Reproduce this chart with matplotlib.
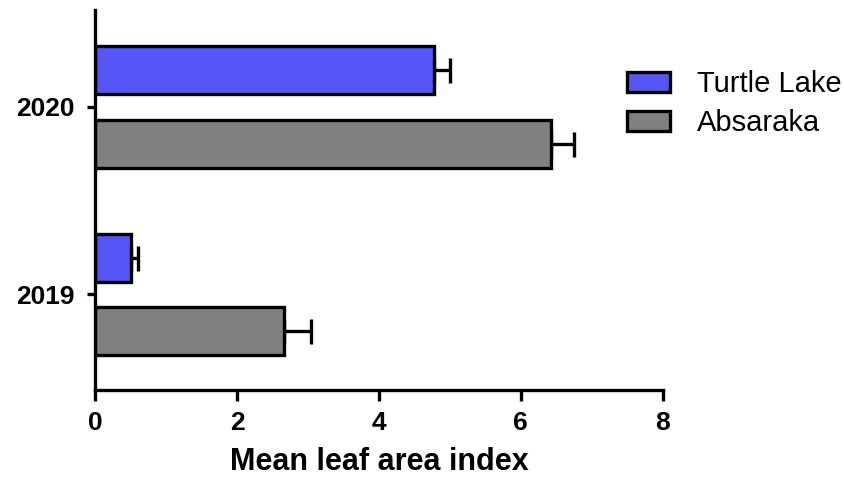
import matplotlib.pyplot as plt
import numpy as np

# Mean leaf area index by year and site
years = ['2019', '2020']
sites = ['Turtle Lake', 'Absaraka']
turtle_lake = [0.51, 4.77]
turtle_lake_err = [0.10, 0.23]
absaraka = [2.66, 6.43]
absaraka_err = [0.39, 0.32]

colors = ['#5656F7', '#808080']

plt.rcParams['font.family'] = ['Liberation Sans', 'DejaVu Sans']

fig = plt.figure(figsize=(8.45, 4.78), dpi=100)
ax = fig.add_axes([0.1124, 0.184, 0.672, 0.795])

y = np.arange(len(years))
h = 0.255
off = 0.196
lw = 2.4

series = [(turtle_lake, turtle_lake_err, +off), (absaraka, absaraka_err, -off)]
for (vals, errs, dy), name, c in zip(series, sites, colors):
    ax.barh(y + dy, vals, height=h, color=c, edgecolor='black',
            linewidth=lw, label=name, zorder=2)
    ax.errorbar(vals, y + dy, xerr=[np.zeros(len(vals)), errs], fmt='none',
                ecolor='black', elinewidth=lw, capsize=9, capthick=lw, zorder=1)

ax.set_xlim(0, 8)
ax.set_ylim(-0.51, 1.517)
ax.set_xticks([0, 2, 4, 6, 8])
ax.set_yticks(y)
ax.set_yticklabels(years)

for s in ['top', 'right']:
    ax.spines[s].set_visible(False)
for s in ['left', 'bottom']:
    ax.spines[s].set_linewidth(lw)

ax.tick_params(axis='both', width=lw, labelsize=19)
ax.tick_params(axis='x', length=8, pad=7)
ax.tick_params(axis='y', length=6, pad=9)
for t in ax.get_xticklabels() + ax.get_yticklabels():
    t.set_fontweight('bold')

ax.set_xlabel('Mean leaf area index', fontsize=22, fontweight='bold', labelpad=9)

ax.legend(loc='upper left', bbox_to_anchor=(0.742, 0.853), bbox_transform=fig.transFigure,
          frameon=False, fontsize=21, handlelength=1.48, handleheight=0.69,
          handletextpad=0.92, labelspacing=0.38, borderpad=0, borderaxespad=0)

fig.savefig('out.png', dpi=100)
